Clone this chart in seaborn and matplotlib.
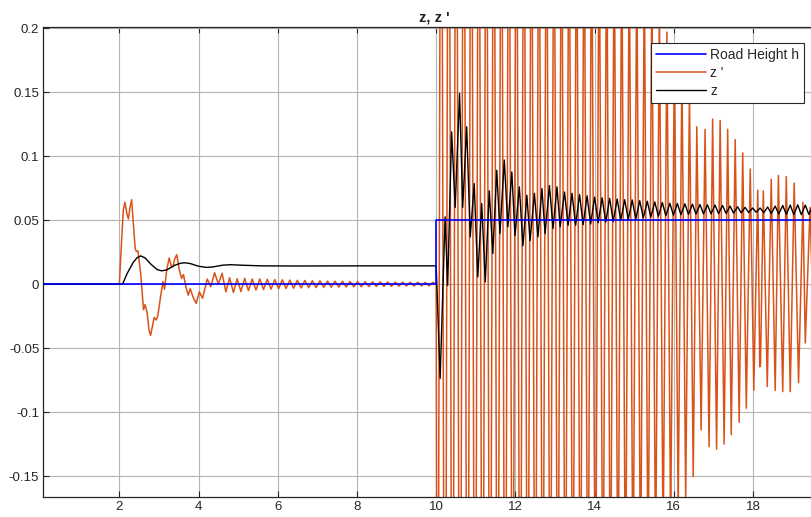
import numpy as np
import pandas as pd
import seaborn as sns
import matplotlib
matplotlib.use("Agg")
import matplotlib.pyplot as plt

# road input: step of 0.05 at t = 10 s
road_t = [0.08, 10.0, 10.0, 19.8]
road_h = [0.0, 0.0, 0.05, 0.05]

# z (black), slow part then the fast zigzag after the step
z_t = [0.08, 2.0, 2.08, 2.2, 2.35, 2.45, 2.54, 2.65, 2.8, 2.95, 3.07, 3.2, 3.4, 3.55, 3.66, 3.8,
       4.0, 4.2, 4.35, 4.6, 4.8, 5.1, 5.6, 6.5, 8.0, 10.0,
       10.10, 10.225, 10.29, 10.39, 10.48, 10.59, 10.67, 10.77, 10.86, 10.96, 11.05, 11.15, 11.24,
       11.34, 11.43, 11.53, 11.61, 11.72, 11.81, 11.91, 11.99, 12.10, 12.19, 12.29, 12.37, 12.48,
       12.57, 12.67, 12.75, 12.86, 12.95, 13.05, 13.13, 13.24,
       13.33, 13.43, 13.52, 13.62, 13.71, 13.81, 13.90, 14.00, 14.09, 14.19, 14.28, 14.38, 14.47,
       14.57, 14.66, 14.76, 14.85, 14.95, 15.04, 15.14, 15.23, 15.33, 15.42, 15.52, 15.61, 15.71,
       15.80, 15.90, 15.99, 16.09, 16.18, 16.28, 16.37, 16.47, 16.56, 16.66, 16.75, 16.85, 16.94,
       17.04, 17.13, 17.23, 17.32, 17.42, 17.51, 17.61, 17.70, 17.80, 17.89, 17.99, 18.08, 18.18,
       18.27, 18.37, 18.46, 18.56, 18.65, 18.75, 18.84, 18.94, 19.03, 19.13, 19.22, 19.32, 19.41,
       19.51]
z_v = [0.0, 0.0, 0.0, 0.0085, 0.017, 0.0207, 0.0221, 0.0205, 0.0155, 0.0115, 0.0104, 0.0112,
       0.0148, 0.0164, 0.0167, 0.016, 0.014, 0.0131, 0.0134, 0.0148, 0.0152, 0.0148, 0.0143,
       0.0142, 0.0143, 0.0143,
       -0.0737, 0.0526, -0.001, 0.119, 0.060, 0.149, 0.060, 0.123, 0.037, 0.0786, 0.0057, 0.063,
       0.0018, 0.073, 0.024, 0.089, 0.0396, 0.097, 0.0448, 0.0877, 0.038, 0.076, 0.030, 0.0695,
       0.034, 0.071, 0.037, 0.0747, 0.0396, 0.077, 0.0435, 0.076, 0.0448, 0.072,
       0.046, 0.071, 0.046, 0.070, 0.0465, 0.069, 0.047, 0.068, 0.048, 0.0675, 0.0485, 0.067,
       0.049, 0.0665, 0.050, 0.066, 0.0505, 0.0658, 0.051, 0.0652, 0.0518, 0.0648, 0.0525, 0.0642,
       0.053, 0.0638, 0.0535, 0.0632, 0.054, 0.063, 0.0543, 0.0628, 0.0545, 0.0625, 0.0548,
       0.0622, 0.055, 0.062, 0.055, 0.0618, 0.0552, 0.0615, 0.0553, 0.061, 0.0555, 0.0605, 0.0558,
       0.060, 0.056, 0.0595, 0.0562, 0.0595, 0.0558, 0.0603, 0.0552, 0.061, 0.0548, 0.0615,
       0.0545, 0.0618, 0.0543, 0.062, 0.0543, 0.0618, 0.0545, 0.0615]

# z ' (orange) - extremes; values outside the axes are estimates
zd_t = [0.08, 2.0, 2.05, 2.10, 2.14, 2.19, 2.23, 2.27, 2.31, 2.36, 2.40, 2.43, 2.47, 2.54, 2.61,
        2.65, 2.70, 2.75, 2.79, 2.84, 2.88, 2.93, 2.97, 3.04, 3.10, 3.14, 3.20, 3.26, 3.31, 3.35,
        3.40, 3.45, 3.51, 3.57, 3.62, 3.68, 3.74, 3.79, 3.86, 3.94, 4.02, 4.10, 4.22,
        4.31, 4.405, 4.50, 4.595, 4.69, 4.785, 4.88, 4.975, 5.07, 5.165, 5.26, 5.355, 5.45, 5.545,
        5.64, 5.735, 5.83, 5.925, 6.02, 6.115, 6.21, 6.305, 6.40, 6.495, 6.59, 6.685, 6.78, 6.875,
        6.97, 7.065, 7.16, 7.255, 7.35, 7.445, 7.54, 7.635, 7.73, 7.825, 7.92, 8.015, 8.11, 8.205,
        8.30, 8.395, 8.49, 8.585, 8.68, 8.775, 8.87, 8.965, 9.06, 9.155, 9.25, 9.345, 9.44, 9.535,
        9.63, 9.725, 9.82, 9.915, 10.0,
        10.03, 10.125, 10.22, 10.315, 10.41, 10.505, 10.60, 10.695, 10.79, 10.885, 10.98, 11.075,
        11.17, 11.265, 11.36, 11.455, 11.55, 11.645, 11.74, 11.835, 11.93, 12.025, 12.12, 12.215,
        12.31, 12.405, 12.50, 12.595, 12.69, 12.785, 12.88, 12.975, 13.07, 13.165, 13.26, 13.355,
        13.45, 13.545, 13.64, 13.735, 13.83, 13.925, 14.02, 14.115, 14.21, 14.305, 14.40, 14.495,
        14.59, 14.685, 14.78, 14.875, 14.97, 15.065, 15.16, 15.255, 15.35, 15.445, 15.54, 15.635,
        15.73, 15.825, 15.92, 16.015, 16.11, 16.205, 16.30, 16.395, 16.49, 16.58, 16.69, 16.79,
        16.89, 16.98, 17.08, 17.17, 17.27, 17.36, 17.45, 17.55, 17.65, 17.74, 17.83, 17.93, 18.02,
        18.12, 18.17, 18.19, 18.26, 18.36, 18.46, 18.56, 18.64, 18.75, 18.84, 18.94, 19.04, 19.15,
        19.26, 19.32, 19.44, 19.53]
zd_v = [0.0, 0.0, 0.030, 0.058, 0.064, 0.055, 0.051, 0.060, 0.066, 0.045, 0.028, 0.0255, 0.026,
        0.008, -0.020, -0.016, -0.022, -0.036, -0.040, -0.032, -0.026, -0.028, -0.025, -0.010,
        0.002, -0.004, 0.012, 0.0205, 0.014, 0.0135, 0.020, 0.023, 0.012, 0.0045, 0.0075, -0.002,
        -0.0086, -0.0035, -0.010, -0.015, -0.006, -0.011, 0.004,
        -0.002, 0.009, 0.0, 0.0085, -0.006, 0.005, -0.0065, 0.0042, -0.0058, 0.0045, -0.005,
        0.004, -0.0046, 0.0041, -0.0042, 0.0038, -0.0039, 0.0036, -0.0036, 0.0034, -0.0034,
        0.0032, -0.0032, 0.003, -0.003, 0.0029, -0.0028, 0.0027, -0.0027, 0.0026, -0.0025,
        0.0024, -0.0024, 0.0023, -0.0023, 0.0022, -0.0022, 0.0021, -0.0021, 0.002, -0.002,
        0.0019, -0.0019, 0.0018, -0.0018, 0.0018, -0.0017, 0.0017, -0.0017, 0.0016, -0.0016,
        0.0016, -0.0015, 0.0015, -0.0015, 0.0015, -0.0014, 0.0014, -0.0014, 0.0014, 0.0,
        -0.55, 0.56, -0.54, 0.55, -0.53, 0.54, -0.52, 0.52, -0.51, 0.51, -0.50, 0.49,
        -0.48, 0.48, -0.47, 0.47, -0.46, 0.45, -0.45, 0.44, -0.43, 0.43, -0.42, 0.42,
        -0.41, 0.40, -0.40, 0.39, -0.38, 0.38, -0.37, 0.37, -0.36, 0.36, -0.35, 0.35,
        -0.34, 0.34, -0.33, 0.33, -0.32, 0.32, -0.31, 0.31, -0.30, 0.30, -0.29, 0.29,
        -0.28, 0.28, -0.27, 0.27, -0.26, 0.26, -0.25, 0.25, -0.24, 0.24, -0.23, 0.22,
        -0.21, 0.197, -0.195, 0.185, -0.178, 0.168, -0.170, 0.152, -0.1505, 0.123, -0.114, 0.121,
        -0.127, 0.129, -0.129, 0.128, -0.125, 0.121, -0.1175, 0.113, -0.108, 0.1026, -0.097, 0.090,
        -0.083, 0.0734, -0.0646, -0.062, 0.0729, -0.080, 0.082, -0.083, 0.085, -0.084, 0.084,
        -0.084, 0.079, -0.077, 0.064, -0.046, 0.060, -0.040]

xticks = [2, 4, 6, 8, 10, 12, 14, 16, 18]
yticks = [-0.15, -0.1, -0.05, 0, 0.05, 0.1, 0.15, 0.2]
ytick_labels = ["-0.15", "-0.1", "-0.05", "0", "0.05", "0.1", "0.15", "0.2"]

sns.set_style("whitegrid")
plt.rcParams["font.family"] = ["Liberation Sans", "DejaVu Sans"]
plt.rcParams["font.size"] = 9.5

fig = plt.figure(figsize=(8.11, 5.17), dpi=100)
ax = fig.add_axes([43.3 / 811, 19.7 / 517, (824.7 - 43.3) / 811, (497.3 - 27) / 517])

orange = "#D95319"
sns.lineplot(x=np.array(zd_t), y=np.array(zd_v), ax=ax, color=orange, linewidth=1.1,
             sort=False, estimator=None, label="z '", zorder=2)
sns.lineplot(x=np.array(z_t), y=np.array(z_v), ax=ax, color="black", linewidth=1.0,
             sort=False, estimator=None, label="z", zorder=3)
sns.lineplot(x=np.array(road_t), y=np.array(road_h), ax=ax, color="#0000FF", linewidth=1.2,
             sort=False, estimator=None, label="Road Height h", zorder=4)

ax.set_xlim(0.08, 19.81)
ax.set_ylim(-0.1666, 0.201)
ax.set_xticks(xticks)
ax.set_xticklabels([str(t) for t in xticks])
ax.set_yticks(yticks)
ax.set_yticklabels(ytick_labels)
ax.set_xlabel("")
ax.set_ylabel("")
ax.set_title("z, z '", fontsize=10.5, fontweight="bold", color="#222222", pad=4)

ax.grid(True, color="#b5b5b5", linewidth=0.8)
for side in ["left", "bottom", "top", "right"]:
    ax.spines[side].set_color("#262626")
    ax.spines[side].set_linewidth(0.9)
ax.tick_params(direction="in", length=4, width=0.8, colors="#262626", labelsize=9.5,
               top=True, bottom=True, left=True, pad=3)

handles, labels = ax.get_legend_handles_labels()
order = [2, 0, 1]
leg = ax.legend([handles[i] for i in order], [labels[i] for i in order],
                loc="upper left", bbox_to_anchor=(650.7 / 811, (517 - 42.7) / 517),
                bbox_transform=fig.transFigure, frameon=True, fancybox=False,
                framealpha=1, edgecolor="#262626", fontsize=10, handlelength=3.6,
                handletextpad=0.35, labelspacing=0.3, borderpad=0.35, borderaxespad=0)
leg.get_frame().set_linewidth(0.8)

fig.savefig("out.png", dpi=100)
